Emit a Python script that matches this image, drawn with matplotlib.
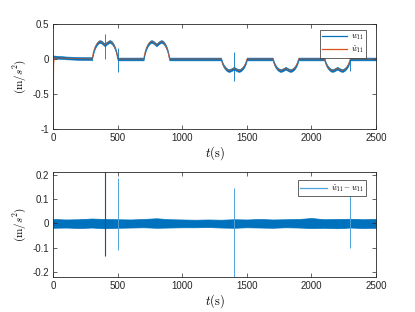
import numpy as np
import matplotlib.pyplot as plt

plt.rcParams['font.family'] = ['Liberation Sans', 'DejaVu Sans']
plt.rcParams['mathtext.fontset'] = 'cm'
plt.rcParams['axes.unicode_minus'] = False

# 曲线数据
bump_start = [300, 700, 1300, 1700, 2100]
bump_peak = [0.25, 0.25, -0.165, -0.165, -0.165]
hump_dt = [0, 10, 20, 30, 40, 50, 60, 70, 80, 90, 100,
           110, 120, 130, 140, 150, 160, 170, 180, 190, 200]
hump_shape = [0, 0.36, 0.6, 0.76, 0.88, 0.96, 1.0, 0.98, 0.93, 0.87, 0.80,
              0.87, 0.93, 0.98, 1.0, 0.96, 0.88, 0.76, 0.6, 0.36, 0]

# 开始阶段
start_t = [0, 50, 100, 200, 299]
start_w = [0.03, 0.022, 0.015, 0.008, 0.005]
what_t0 = [0, 2, 5, 10]
what_v0 = [-1.0, -0.55, -0.08, 0.015]

# 尖峰 (t, 下端, 上端)
spike_t = [400, 500, 1400, 2300]
spike_lo_top = [0.0, -0.18, -0.31, -0.17]
spike_hi_top = [0.36, 0.15, 0.10, 0.05]
spike_lo_bot = [-0.135, -0.11, -0.22, -0.10]
spike_hi_bot = [0.21, 0.185, 0.145, 0.13]

# 误差带包络
err_t = list(range(0, 2501, 100))
err_hi = [0.018, 0.016, 0.017, 0.020, 0.018, 0.017, 0.016, 0.018, 0.021, 0.017,
          0.016, 0.015, 0.016, 0.015, 0.017, 0.016, 0.018, 0.016, 0.017, 0.018,
          0.022, 0.017, 0.018, 0.019, 0.017, 0.018]
err_lo = [-0.018, -0.017, -0.019, -0.017, -0.020, -0.018, -0.017, -0.016, -0.018, -0.017,
          -0.016, -0.016, -0.015, -0.017, -0.018, -0.016, -0.017, -0.018, -0.016, -0.017,
          -0.019, -0.018, -0.020, -0.017, -0.019, -0.018]

blue = '#0072BD'
red = '#D95319'

# 拼接参考曲线
t_pts = list(start_t)
w_pts = list(start_w)
for s, a in zip(bump_start, bump_peak):
    t_pts += [s + d for d in hump_dt]
    w_pts += [a * h for h in hump_shape]
    if s != bump_start[-1]:
        t_pts.append(s + 201)
        w_pts.append(0.0)
t_pts.append(2500)
w_pts.append(0.0)
t_pts = np.array(t_pts, dtype=float)
w_pts = np.array(w_pts)

wh_t = np.concatenate([what_t0, t_pts[5:]])
wh_v = np.concatenate([what_v0, w_pts[5:]])


def style_axes(ax):
    ax.tick_params(direction='in', top=True, right=True, length=3, width=0.5,
                   labelsize=7, colors='#262626', pad=3)
    for sp in ax.spines.values():
        sp.set_linewidth(0.6)
        sp.set_color('#262626')
    ax.set_xlim(0, 2500)
    ax.set_xticks([0, 500, 1000, 1500, 2000, 2500])
    ax.set_xlabel(r'$t(\mathrm{s})$', fontsize=9, labelpad=1)
    ax.set_ylabel(r'$(\mathrm{m}/s^2)$', fontsize=8, labelpad=3)


fig = plt.figure(figsize=(4.15, 3.12), dpi=100)

ax1 = fig.add_axes([0.128, 0.587, 0.778, 0.336])
ax1.fill_between(t_pts, w_pts - 0.02, w_pts + 0.02, color=blue, lw=0.4)
ax1.vlines(spike_t, spike_lo_top, spike_hi_top, color=blue, lw=0.6)
ax1.plot(wh_t, wh_v, color=red, lw=0.6, alpha=0.8)
h1 = plt.Line2D([], [], color=blue, lw=0.9)
h2 = plt.Line2D([], [], color=red, lw=0.9)
ax1.set_ylim(-1, 0.5)
ax1.set_yticks([-1, -0.5, 0, 0.5])
ax1.set_yticklabels(['-1', '-0.5', '0', '0.5'])
style_axes(ax1)
leg1 = ax1.legend([h1, h2], [r'$w_{11}$', r'$\hat{w}_{11}$'], loc='upper right',
                  fontsize=5.5, fancybox=False, framealpha=1, edgecolor='#262626',
                  handlelength=3.2, handletextpad=0.5, borderpad=0.3,
                  labelspacing=0.2, bbox_to_anchor=(0.98, 0.975))
leg1.get_frame().set_linewidth(0.5)

ax2 = fig.add_axes([0.128, 0.112, 0.778, 0.337])
ax2.fill_between(err_t, err_lo, err_hi, color=blue, lw=0.5)
ax2.vlines(spike_t[0], spike_lo_bot[0], spike_hi_bot[0], color='#1a4f80', lw=0.8)
ax2.vlines(spike_t[1:], spike_lo_bot[1:], spike_hi_bot[1:], color='#4da3dc', lw=0.7)
h3 = plt.Line2D([], [], color='#4da3dc', lw=0.9)
ax2.set_ylim(-0.22, 0.211)
ax2.set_yticks([-0.2, -0.1, 0, 0.1, 0.2])
ax2.set_yticklabels(['-0.2', '-0.1', '0', '0.1', '0.2'])
style_axes(ax2)
leg2 = ax2.legend([h3], [r'$\hat{w}_{11}-w_{11}$'], loc='upper right',
                  fontsize=5.5, fancybox=False, framealpha=1, edgecolor='#262626',
                  handlelength=3.5, handletextpad=0.5, borderpad=0.3,
                  bbox_to_anchor=(0.98, 0.96))
leg2.get_frame().set_linewidth(0.5)

fig.savefig('out.png', dpi=100)
